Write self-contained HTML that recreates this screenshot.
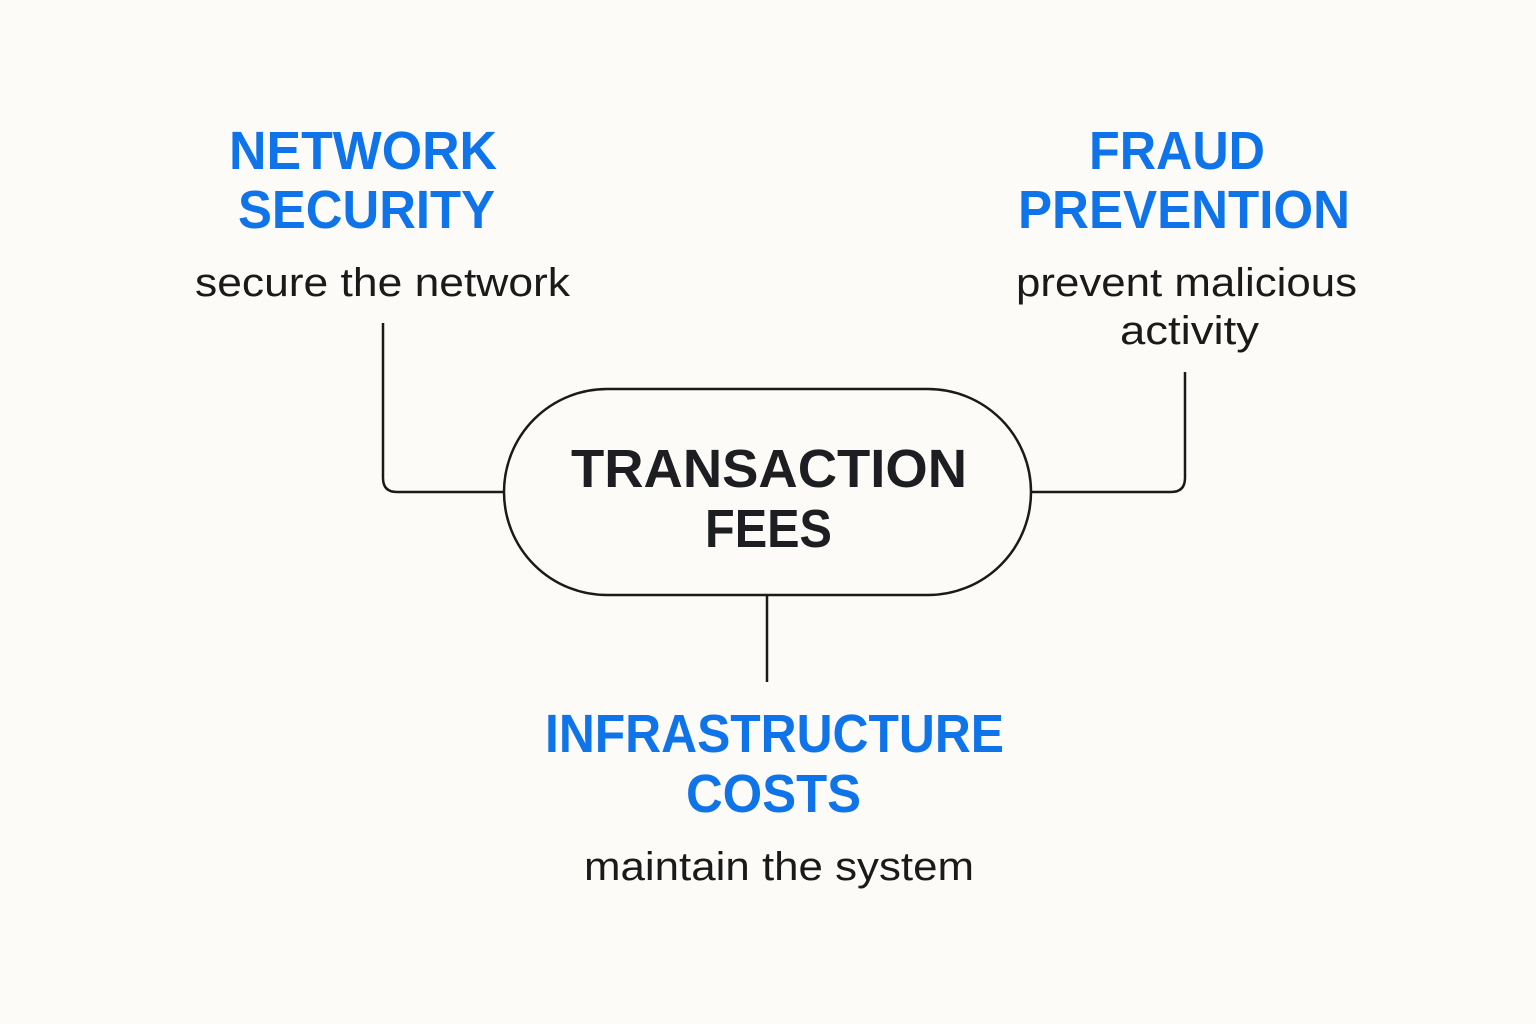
<!DOCTYPE html>
<html>
<head>
<meta charset="utf-8">
<style>
html,body{margin:0;padding:0;background:#fcfbf8;}
svg{display:block;}
.h{font-family:"Liberation Sans",sans-serif;font-weight:bold;font-size:54px;fill:#0f74ea;}
.c{font-family:"Liberation Sans",sans-serif;font-weight:bold;font-size:54px;fill:#1c1e21;}
.s{font-family:"Liberation Sans",sans-serif;font-size:40px;fill:#1a1a1a;}
</style>
</head>
<body>
<svg width="1536" height="1024" viewBox="0 0 1536 1024" xmlns="http://www.w3.org/2000/svg">
<rect width="1536" height="1024" fill="#fcfbf8"/>
<g fill="none" stroke="#1a1a1a" stroke-width="2.5">
<rect x="504" y="389" width="527" height="206" rx="103" ry="103"/>
<path d="M383 323 V478 Q383 492 397 492 H504"/>
<path d="M1185 372 V478 Q1185 492 1171 492 H1031"/>
<path d="M767 595 V682"/>
</g>
<text class="h" x="229" y="169" textLength="268" lengthAdjust="spacingAndGlyphs">NETWORK</text>
<text class="h" x="238" y="228" textLength="257" lengthAdjust="spacingAndGlyphs">SECURITY</text>
<text class="s" x="195" y="296" textLength="375" lengthAdjust="spacingAndGlyphs">secure the network</text>
<text class="h" x="1089" y="169" textLength="176" lengthAdjust="spacingAndGlyphs">FRAUD</text>
<text class="h" x="1018" y="228" textLength="332" lengthAdjust="spacingAndGlyphs">PREVENTION</text>
<text class="s" x="1016" y="296" textLength="341" lengthAdjust="spacingAndGlyphs">prevent malicious</text>
<text class="s" x="1120" y="344" textLength="139" lengthAdjust="spacingAndGlyphs">activity</text>
<text class="c" x="571" y="487" textLength="396" lengthAdjust="spacingAndGlyphs">TRANSACTION</text>
<text class="c" x="705" y="547" textLength="127" lengthAdjust="spacingAndGlyphs">FEES</text>
<text class="h" x="545" y="752" textLength="459" lengthAdjust="spacingAndGlyphs">INFRASTRUCTURE</text>
<text class="h" x="686" y="812" textLength="175" lengthAdjust="spacingAndGlyphs">COSTS</text>
<text class="s" x="584" y="880" textLength="390" lengthAdjust="spacingAndGlyphs">maintain the system</text>
</svg>
</body>
</html>
